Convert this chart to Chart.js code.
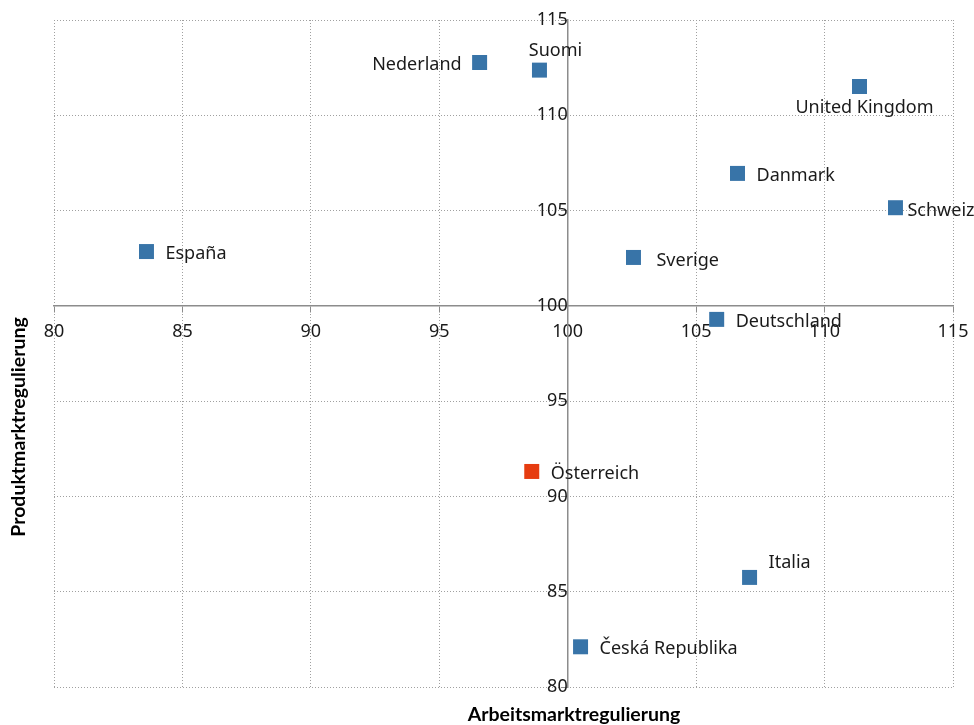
<!DOCTYPE html>
<html>
<head>
<meta charset="utf-8">
<script src="https://cdn.jsdelivr.net/npm/chart.js@4.4.1/dist/chart.umd.min.js"></script>
<style>
    html, body { margin: 0; padding: 0; background: #fff; }
    #wrap { width: 974px; height: 725px; }
</style>
</head>
<body>
<div id="wrap"><canvas id="chart" width="974" height="725"></canvas></div>
<script>
// data
const countries = ['Nederland', 'Suomi', 'United Kingdom', 'Danmark', 'Schweiz', 'España',
    'Sverige', 'Deutschland', 'Österreich', 'Italia', 'Česká Republika'];
const arbeitsmarkt = [96.57, 98.90, 111.36, 106.61, 112.76, 83.60, 102.56, 105.80, 98.60, 107.08, 100.50];
const produktmarkt = [112.77, 112.37, 111.51, 106.95, 105.15, 102.85, 102.54, 99.29, 91.31, 85.75, 82.11];
const highlighted = 'Österreich';
const xTicks = [80, 85, 90, 95, 100, 105, 110, 115];
const yTicks = [80, 85, 90, 95, 100, 105, 110, 115];

// where each label sits relative to its marker
const labelPlace = ['left', 'above', 'below', 'right', 'rightNear', 'right',
    'rightFar', 'right', 'right', 'aboveRight', 'right'];

const BLUE = '#3874a8';
const RED = '#e63c10';
const GRID = '#a0a0a0';
const AXIS = '#8c8c8c';

const points = arbeitsmarkt.map((x, i) => ({ x: x, y: produktmarkt[i] }));
const colors = countries.map(c => c === highlighted ? RED : BLUE);

const pointLabels = {
    id: 'pointLabels',
    afterDatasetsDraw(chart) {
        const ctx = chart.ctx;
        const meta = chart.getDatasetMeta(0);
        ctx.save();
        ctx.font = '18px "Noto Sans"';
        ctx.fillStyle = '#1a1a1a';
        ctx.textBaseline = 'middle';
        meta.data.forEach((el, i) => {
            let x = el.x, y = el.y;
            const place = labelPlace[i];
            ctx.textAlign = 'left';
            if (place === 'left') { ctx.textAlign = 'right'; x -= 18; y += 2; }
            else if (place === 'above') { ctx.textAlign = 'center'; x += 16; y -= 19; }
            else if (place === 'below') { ctx.textAlign = 'center'; x += 5; y += 21; }
            else if (place === 'aboveRight') { x += 19; y -= 15; }
            else if (place === 'rightNear') { x += 12; y += 3; }
            else if (place === 'rightFar') { x += 23; y += 3; }
            else { x += 19; y += 2; }
            ctx.fillText(countries[i], x, y);
        });
        ctx.restore();
    }
};

const axisTitles = {
    id: 'axisTitles',
    afterDraw(chart) {
        const ctx = chart.ctx;
        ctx.save();
        ctx.font = 'bold 19.5px Lato';
        ctx.fillStyle = '#000';
        ctx.textAlign = 'center';
        ctx.textBaseline = 'middle';
        ctx.fillText('Arbeitsmarktregulierung', 574, 715);
        ctx.translate(19, 427);
        ctx.rotate(-Math.PI / 2);
        ctx.fillText('Produktmarktregulierung', 0, 0);
        ctx.restore();
    }
};

const gridOpts = {
    color: GRID,
    tickColor: AXIS,
    tickBorderDash: [],
    tickLength: 6,
};

new Chart(document.getElementById('chart'), {
    type: 'scatter',
    data: {
        datasets: [{
            data: points,
            pointStyle: 'rect',
            pointRadius: 10.6,
            pointBorderWidth: 0,
            backgroundColor: colors,
            pointBackgroundColor: colors,
        }]
    },
    options: {
        responsive: false,
        animation: false,
        events: [],
        layout: { padding: { left: 54, top: 20, right: 21, bottom: 38 } },
        plugins: {
            legend: { display: false },
            tooltip: { enabled: false },
        },
        scales: {
            x: {
                type: 'linear',
                min: 80,
                max: 115,
                position: { y: 100 },
                afterBuildTicks: axis => { axis.ticks = xTicks.map(v => ({ value: v })); },
                afterFit: axis => { axis.paddingLeft = 0; axis.paddingRight = 0; },
                grid: gridOpts,
                border: { color: AXIS, width: 1.5, dash: [1, 2] },
                ticks: {
                    color: '#1a1a1a',
                    font: { family: 'Noto Sans', size: 18 },
                    padding: 9,
                    maxRotation: 0,
                },
            },
            y: {
                type: 'linear',
                min: 80,
                max: 115,
                position: { x: 100 },
                afterBuildTicks: axis => { axis.ticks = yTicks.map(v => ({ value: v })); },
                afterFit: axis => { axis.paddingTop = 0; axis.paddingBottom = 0; },
                grid: gridOpts,
                border: { color: AXIS, width: 1.5, dash: [1, 2] },
                ticks: {
                    color: '#1a1a1a',
                    font: { family: 'Noto Sans', size: 18 },
                    padding: 14,
                },
            },
        },
    },
    plugins: [pointLabels, axisTitles],
});
</script>
</body>
</html>
